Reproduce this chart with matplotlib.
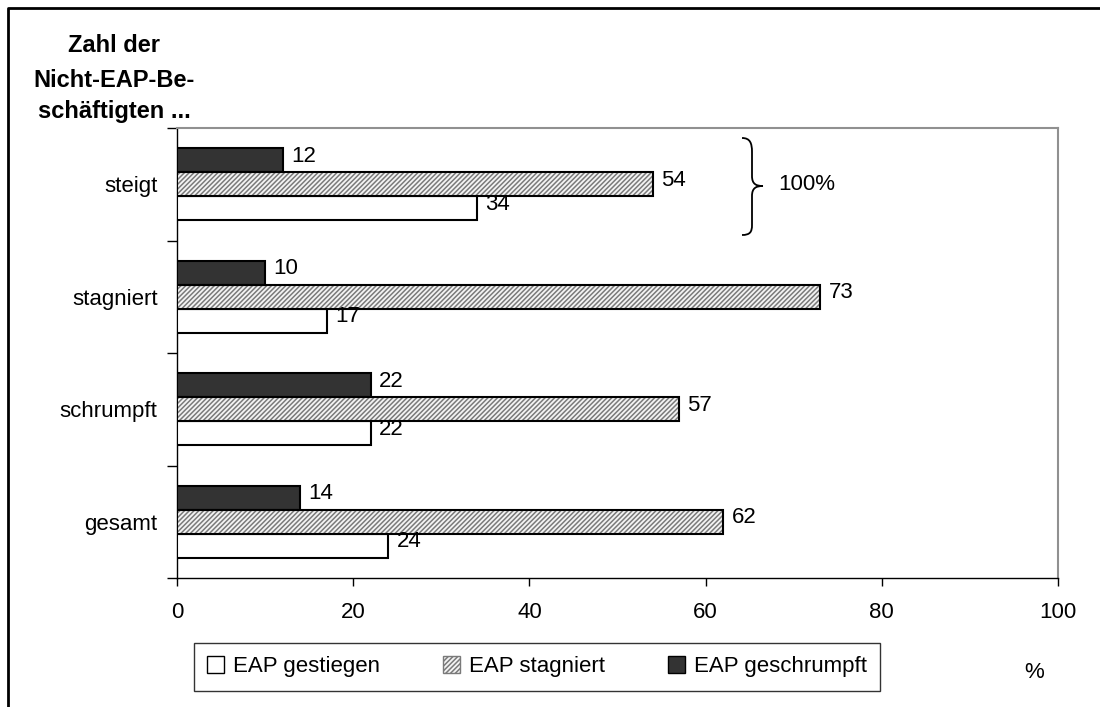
import matplotlib
matplotlib.use("Agg")
import matplotlib.pyplot as plt
from matplotlib.path import Path
from matplotlib.patches import PathPatch, Patch
from matplotlib.lines import Line2D

plt.rcParams['font.family'] = ['Liberation Sans', 'DejaVu Sans']
plt.rcParams['hatch.linewidth'] = 1.1

# Daten (Anteile in %)
kategorien = ['gesamt', 'schrumpft', 'stagniert', 'steigt']
gestiegen = [24, 22, 17, 34]
stagniert = [62, 57, 73, 54]
geschrumpft = [14, 22, 10, 12]
serien_namen = ['EAP gestiegen', 'EAP stagniert', 'EAP geschrumpft']
xticks = [0, 20, 40, 60, 80, 100]

W, H = 1100, 707
fig = plt.figure(figsize=(11, 7.07), dpi=100)

def px(x, y):
    # Bildpixel -> Figurenkoordinaten
    return x / W, 1 - y / H

l, b = px(177, 578)
r, t = px(1058, 128)
ax = fig.add_axes([l, b, r - l, t - b])

fs = 16
h = 0.213
hatch_grau = '#7a7a7a'
y = list(range(len(kategorien)))

# weiße Balken (unten)
ax.barh([v - h for v in y], gestiegen, height=h, color='white',
        edgecolor='black', linewidth=1.5, zorder=3)
# schraffierte Balken (Mitte): erst Schraffur in grau, dann schwarzer Rahmen
ax.barh(y, stagniert, height=h, color='#f4f4f4', edgecolor=hatch_grau,
        hatch='///////', linewidth=0, zorder=3)
ax.barh(y, stagniert, height=h, fill=False, edgecolor='black',
        linewidth=1.5, zorder=4)
# dunkle Balken (oben)
ax.barh([v + h for v in y], geschrumpft, height=h, color='#333333',
        edgecolor='black', linewidth=1.5, zorder=3)

# Beschriftung der Balken
for i in y:
    for off, val in [(-h, gestiegen[i]), (0, stagniert[i]), (h, geschrumpft[i])]:
        ax.annotate(str(val), (val, i + off), xytext=(6, 3),
                    textcoords='offset points', va='center', ha='left',
                    fontsize=fs)

ax.set_xlim(0, 100)
ax.set_ylim(-0.5, len(kategorien) - 0.5)
ax.set_xticks(xticks)
ax.set_xticklabels([str(v) for v in xticks], fontsize=fs)
ax.tick_params(axis='x', direction='out', length=6, width=1, pad=11)

ax.set_yticks([v - 0.5 for v in range(len(kategorien) + 1)])
ax.set_yticklabels([])
ax.tick_params(axis='y', which='major', direction='out', length=7, width=1)
ax.set_yticks(y, minor=True)
ax.set_yticklabels(kategorien, minor=True, fontsize=fs)
ax.tick_params(axis='y', which='minor', length=0, pad=14)

for s in ['left', 'bottom']:
    ax.spines[s].set_color('black')
    ax.spines[s].set_linewidth(1)
for s in ['top', 'right']:
    ax.spines[s].set_color('#909090')
    ax.spines[s].set_linewidth(1.5)

# Titel der Y-Achse
for txt, yy in [('Zahl der', 52), ('Nicht-EAP-Be-', 87), ('schäftigten ...', 118)]:
    fig.text(*px(114, yy), txt, ha='center', va='baseline',
             fontsize=17, fontweight='bold')

# geschweifte Klammer mit 100%
pts = [(742, 138), (750, 138), (752, 143), (752, 152),
       (752, 176),
       (752, 184), (756, 186), (763, 186),
       (756, 186), (752, 188), (752, 196),
       (752, 225),
       (752, 232), (750, 235), (742, 235)]
codes = [Path.MOVETO, Path.CURVE4, Path.CURVE4, Path.CURVE4,
         Path.LINETO,
         Path.CURVE4, Path.CURVE4, Path.CURVE4,
         Path.CURVE4, Path.CURVE4, Path.CURVE4,
         Path.LINETO,
         Path.CURVE4, Path.CURVE4, Path.CURVE4]
brace = Path([px(*p) for p in pts], codes)
fig.add_artist(PathPatch(brace, transform=fig.transFigure, fill=False,
                         edgecolor='black', linewidth=1.3))
fig.text(*px(778, 184), '100%', ha='left', va='center', fontsize=fs)

# Legende
handles = [Patch(facecolor='white', edgecolor='black', linewidth=1),
           Patch(facecolor='#f4f4f4', edgecolor=hatch_grau, hatch='///////', linewidth=1),
           Patch(facecolor='#333333', edgecolor='black', linewidth=1)]
leg = fig.legend(handles, serien_namen, loc='upper left',
                 bbox_to_anchor=px(194, 643), ncol=3, fontsize=fs,
                 frameon=True, fancybox=False, edgecolor='black',
                 handlelength=0.75, handleheight=0.75, handletextpad=0.4,
                 columnspacing=2.85, borderpad=0.6, borderaxespad=0)
leg.get_frame().set_linewidth(1)

fig.text(*px(1034, 672), '%', ha='center', va='center', fontsize=fs)

# äußerer Rahmen (links und oben)
fig.add_artist(Line2D([8 / W, 8 / W, 1], [0, 1 - 8 / H, 1 - 8 / H],
                      transform=fig.transFigure, color='black', linewidth=2))

fig.savefig('out.png', dpi=100)
